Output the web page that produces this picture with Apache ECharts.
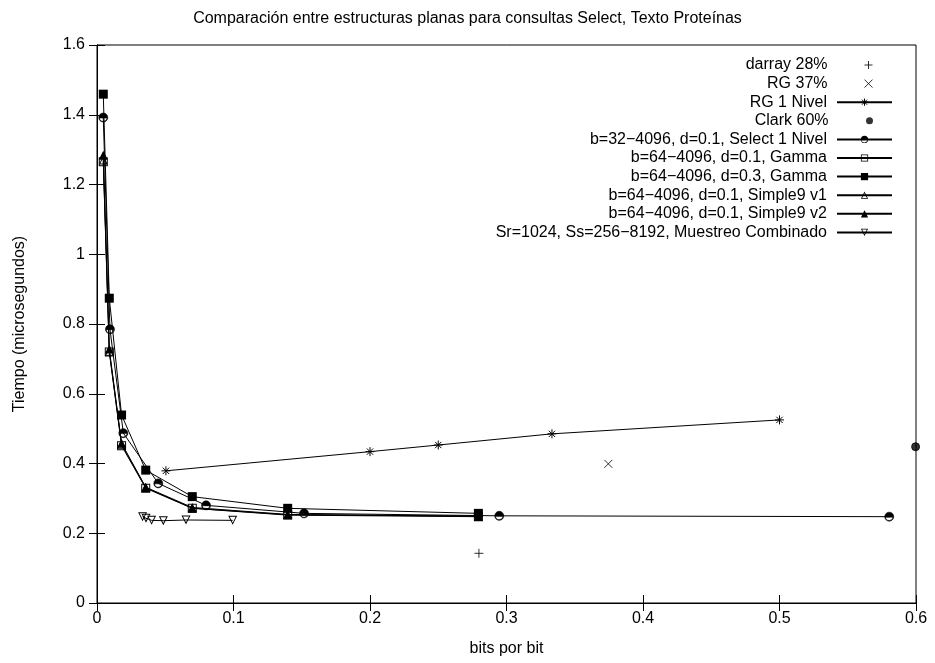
<!DOCTYPE html>
<html><head><meta charset="utf-8">
<script src="https://cdn.jsdelivr.net/npm/echarts@6/dist/echarts.min.js"></script>
<style>html,body{margin:0;padding:0;background:#fff}#c{width:935px;height:663px}</style>
</head><body><div id="c"></div>
<script>
const FONT = '"Liberation Sans", Arial, Helvetica, sans-serif';
const FS = 16;

const titleText = 'Comparación entre estructuras planas para consultas Select, Texto Proteínas';
const xLabel = 'bits por bit';
const yLabel = 'Tiempo (microsegundos)';

const darrayX = [0.2798];
const darrayY = [0.1425];
const rg37X = [0.3746];
const rg37Y = [0.399];
const rg1X = [0.0505, 0.2, 0.25, 0.3333, 0.5];
const rg1Y = [0.379, 0.434, 0.453, 0.485, 0.525];
const clarkX = [0.5997];
const clarkY = [0.448];
const select1X = [0.0046, 0.0095, 0.0193, 0.0449, 0.0799, 0.1517, 0.2947, 0.5804];
const select1Y = [1.392, 0.785, 0.487, 0.343, 0.280, 0.257, 0.250, 0.2475];
const gamma01X = [0.0046, 0.009, 0.018, 0.0357, 0.0698, 0.1397, 0.2794];
const gamma01Y = [1.265, 0.720, 0.451, 0.329, 0.2715, 0.252, 0.2475];
const gamma03X = [0.0046, 0.009, 0.018, 0.0357, 0.0698, 0.1397, 0.2794];
const gamma03Y = [1.459, 0.874, 0.539, 0.381, 0.305, 0.2715, 0.257];
const s9v1X = [0.0046, 0.009, 0.018, 0.0357, 0.0698, 0.1397, 0.2794];
const s9v1Y = [1.270, 0.722, 0.455, 0.331, 0.272, 0.253, 0.249];
const s9v2X = [0.0046, 0.009, 0.018, 0.0357, 0.0698, 0.1397, 0.2794];
const s9v2Y = [1.284, 0.728, 0.458, 0.332, 0.274, 0.254, 0.249];
const muestX = [0.0334, 0.0359, 0.040, 0.0486, 0.0652, 0.0994];
const muestY = [0.247, 0.243, 0.237, 0.236, 0.238, 0.237];

const names = [
  'darray 28%',
  'RG 37%',
  'RG 1 Nivel',
  'Clark 60%',
  'b=32\u22124096, d=0.1, Select 1 Nivel',
  'b=64\u22124096, d=0.1, Gamma',
  'b=64\u22124096, d=0.3, Gamma',
  'b=64\u22124096, d=0.1, Simple9 v1',
  'b=64\u22124096, d=0.1, Simple9 v2',
  'Sr=1024, Ss=256\u22128192, Muestreo Combinado'
];

const zip = (xs, ys) => xs.map((x, i) => [x, ys[i]]);

const PLUS = 'path://M4,0L4,8M0,4L8,4';
const CROSS = 'path://M0,0L8,8M0,8L8,0';
const STAR = 'path://M4,0L4,8M0,4L8,4M1.2,1.2L6.8,6.8M1.2,6.8L6.8,1.2';
const HALF = 'path://M0,10A10,10,0,0,1,20,10A10,10,0,0,1,0,10ZM1.56,11A8.5,8.5,0,0,0,18.44,11Z';
const SQ_RING = 'path://M0,0L10,0L10,10L0,10ZM1.1,1.1L1.1,8.9L8.9,8.9L8.9,1.1Z';
const TRI_RING = 'path://M5,0L10,10L0,10ZM5,2.4L1.7,8.9L8.3,8.9Z';

const lineBase = {color: '#000', width: 1};

function scatter(name, xs, ys, symbol, size, fill) {
  return {
    type: 'scatter', name, data: zip(xs, ys), symbol, symbolSize: size, clip: false,
    itemStyle: {color: fill, borderColor: '#000', borderWidth: 1}
  };
}
function line(name, xs, ys, symbol, size, border, rotate) {
  return {
    type: 'line', name, data: zip(xs, ys),
    symbol, symbolSize: size, clip: false,
    symbolRotate: rotate || 0,
    showAllSymbol: true,
    lineStyle: lineBase,
    itemStyle: {color: '#000', borderColor: '#000', borderWidth: border},
    z: 2
  };
}

const series = [
  scatter(names[0], darrayX, darrayY, PLUS, 9, 'transparent'),
  scatter(names[1], rg37X, rg37Y, CROSS, 8, 'transparent'),
  line(names[2], rg1X, rg1Y, STAR, 9, 1),
  scatter(names[3], clarkX, clarkY, 'circle', 8, '#000'),
  line(names[4], select1X, select1Y, HALF, 9, 0.6),
  line(names[5], gamma01X, gamma01Y, SQ_RING, 9, 0),
  line(names[6], gamma03X, gamma03Y, 'rect', 9, 0),
  line(names[7], s9v1X, s9v1Y, TRI_RING, 9, 0),
  line(names[8], s9v2X, s9v2Y, 'triangle', 9, 0),
  line(names[9], muestX, muestY, TRI_RING, 9, 0, 180)
];

const scatterIdx = [0, 1, 3];
const strokeIdx = [0, 1, 2];
const legends = names.map((n, i) => {
  const isSc = scatterIdx.indexOf(i) >= 0;
  return {
    data: [n],
    orient: 'vertical',
    align: 'right',
    right: isSc ? 62 : 42,
    top: 57 + i * 18.6,
    padding: 0,
    itemWidth: isSc ? 8 : 55,
    itemHeight: isSc ? (i === 3 ? 7 : 8) : 9,
    selectedMode: false,
    textStyle: {fontFamily: FONT, fontSize: FS, color: '#000', lineHeight: 16,
                padding: [0, isSc ? 32 : 5, 0, 0]},
    itemStyle: {borderWidth: strokeIdx.indexOf(i) >= 0 ? 1 : 0, borderColor: '#000'}
  };
});

const chart = echarts.init(document.getElementById('c'), null, {renderer: 'canvas'});
chart.setOption({
  backgroundColor: '#fff',
  animation: false,
  title: {
    text: titleText, left: 'center', top: 6,
    textStyle: {fontFamily: FONT, fontSize: FS, fontWeight: 'normal', color: '#000'}
  },
  legend: legends,
  grid: {left: 97, right: 19, top: 45, bottom: 60, show: true, borderColor: '#000', borderWidth: 1},
  xAxis: [{
    type: 'value', min: 0, max: 0.6, interval: 0.1, position: 'bottom',
    name: xLabel, nameLocation: 'middle', nameGap: 38,
    nameTextStyle: {fontFamily: FONT, fontSize: FS, color: '#000'},
    axisLine: {show: true, lineStyle: {color: '#000', width: 1}},
    axisTick: {show: true, inside: true, length: 8, lineStyle: {color: '#000'}},
    axisLabel: {fontFamily: FONT, fontSize: FS, color: '#000', margin: 8},
    splitLine: {show: false}
  }, {
    type: 'value', min: 0, max: 0.6, interval: 0.1, position: 'top',
    axisLine: {show: true, lineStyle: {color: '#000', width: 1}},
    axisTick: {show: true, inside: true, length: 8, lineStyle: {color: '#000'}},
    axisLabel: {show: false}, splitLine: {show: false}
  }],
  yAxis: [{
    type: 'value', min: 0, max: 1.6, interval: 0.2, position: 'left',
    name: yLabel, nameLocation: 'middle', nameGap: 69, nameRotate: 90,
    nameTextStyle: {fontFamily: FONT, fontSize: FS, color: '#000'},
    axisLine: {show: true, lineStyle: {color: '#000', width: 1}},
    axisTick: {show: true, inside: true, length: 8, lineStyle: {color: '#000'}},
    axisLabel: {fontFamily: FONT, fontSize: FS, color: '#000', margin: 12},
    splitLine: {show: false}
  }, {
    type: 'value', min: 0, max: 1.6, interval: 0.2, position: 'right',
    axisLine: {show: true, lineStyle: {color: '#000', width: 1}},
    axisTick: {show: true, inside: true, length: 8, lineStyle: {color: '#000'}},
    axisLabel: {show: false}, splitLine: {show: false}
  }],
  series: series
});
</script>
</body></html>
